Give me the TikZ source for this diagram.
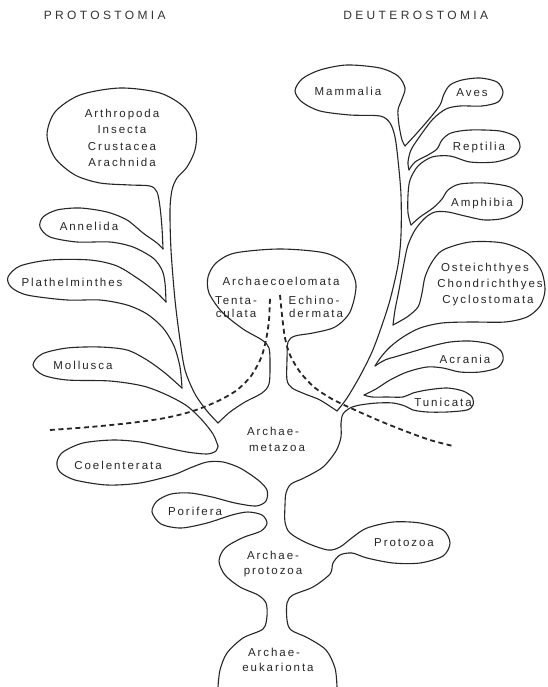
\documentclass[tikz,border=0pt]{standalone}
\usepackage{fontspec}
\newfontfamily\labfont[LetterSpace=17]{Liberation Sans}
\newfontfamily\headfont[LetterSpace=28]{Liberation Sans}
\begin{document}
\begin{tikzpicture}[x=1pt,y=-1pt,
  outl/.style={line width=1.1pt, draw=black!85, line join=round, line cap=round},
  divide/.style={line width=1.8pt, draw=black!85, dash pattern=on 5pt off 3.5pt},
  lab/.style={inner sep=0pt, anchor=base, xshift=1pt, font=\labfont\fontsize{11.5}{13}\selectfont, text=black!85},
  head/.style={inner sep=0pt, anchor=base, xshift=1.7pt, font=\headfont\fontsize{12}{14}\selectfont, text=black!80}]
\fill[white] (0,0) rectangle (547,687);
\useasboundingbox (0,0) rectangle (547,687);

% outline, left side (bottom to top)
\draw[outl] plot[smooth,tension=0.5] coordinates {(218,687) (220,670) (227,653) (243,638) (263,629) (267,616) (266,603) (258,595) (240,587) (225,575) (219,561) (225,548) (242,538) (261,531) (267,523) (262,515) (248,512) (232,515) (207,523) (181,528) (161,524) (152,512) (157,501) (171,494) (190,493) (212,497) (235,503) (256,506) (266,501) (267,490) (258,480) (240,468) (223,462) (207,462) (190,468) (173,475) (140,483) (107,485) (75,480) (60,472) (57,462) (63,452) (83,443) (113,440) (140,442) (163,447) (187,452) (207,454) (216,451) (218,446)};
\draw[outl] plot[smooth,tension=0.5] coordinates {(218,446) (213,434) (202,420) (187,406) (167,395) (143,386) (110,381) (67,380) (43,375) (33,365) (42,354) (67,348) (100,347) (127,350) (147,360) (165,373) (182,388)};
\draw[outl] plot[smooth,tension=0.5] coordinates {(182,388) (180,367) (174,346) (163,328) (147,314) (127,305) (100,300) (67,300) (27,295) (11,287) (8,277) (20,266) (50,260) (90,260) (117,266) (140,280) (157,293) (166,302)};
\draw[outl] plot[smooth,tension=0.5] coordinates {(166,302) (165,283) (162,270) (153,258) (133,247) (110,242) (77,242) (50,237) (40,227) (43,217) (57,210) (80,208) (107,212) (127,220) (143,233) (157,243) (163,249)};
\draw[outl] plot[smooth,tension=0.5] coordinates {(163,249) (162,228) (160,207) (157,192) (150,186) (130,185) (100,183) (75,175) (55,158) (47,135) (55,112) (80,95) (120,88) (160,93) (185,108) (196,130) (195,150) (187,167) (177,178) (172,190) (170,210) (171,250) (175,300) (180,340) (185,370) (195,394) (207,411) (218,423)};
% Archaecoelomata
\draw[outl] plot[smooth,tension=0.5] coordinates {(218,423) (230,412) (245,402) (262,393) (269,384) (270,365) (269,348) (262,340) (243,329) (222,312) (209,293) (208,277) (216,263) (235,253) (280,249) (325,253) (347,265) (356,285) (350,312) (335,327) (313,333) (295,336) (288,342) (287,360) (287,380) (292,388) (305,394) (320,400) (337,411)};
% right trunk and Mammalia
\draw[outl] plot[smooth,tension=0.5] coordinates {(337,411) (347,398) (360,376) (372,352) (381,328) (390,300) (398,265) (401,235) (401,195) (398,160) (395,137) (390,123) (380,116) (350,115) (320,111) (302,102) (295,91) (302,79) (320,70) (347,65) (380,68) (398,76) (405,88) (402,99) (398,110) (399,125) (402,140) (405,146)};
\draw[outl] plot[smooth,tension=0.5] coordinates {(405,146) (417,133) (430,118) (440,105) (444,94) (450,85) (462,80) (480,78) (497,82) (503,92) (498,102) (482,106) (460,106) (446,109) (433,119) (420,136) (411,150) (408,162) (409,170)};
\draw[outl] plot[smooth,tension=0.5] coordinates {(409,170) (415,162) (428,155) (437,149) (442,140) (451,133) (470,130) (500,131) (516,137) (520,147) (514,156) (495,162) (470,162) (450,156) (432,157) (418,166) (410,180) (408,195) (408,213) (411,225)};
\draw[outl] plot[smooth,tension=0.5] coordinates {(411,225) (420,217) (433,208) (442,199) (448,190) (460,184) (485,183) (510,187) (522,197) (520,210) (505,218) (485,220) (465,216) (448,212) (435,212) (425,218) (415,230) (408,245) (404,263) (399,290) (395,310) (393,325)};
\draw[outl] plot[smooth,tension=0.5] coordinates {(393,325) (407,317) (418,307) (422,293) (425,277) (432,262) (443,250) (470,242) (503,243) (527,253) (541,270) (545,290) (540,306) (527,317) (505,322) (470,322) (442,323) (420,328) (403,337) (390,347) (381,357) (375,366)};
\draw[outl] plot[smooth,tension=0.5] coordinates {(375,366) (385,360) (398,356) (415,351) (432,346) (450,342) (470,341) (490,344) (501,351) (503,360) (497,368) (480,372) (460,372) (443,368) (427,367) (407,372) (390,380) (376,389) (364,395)};
\draw[outl] plot[smooth,tension=0.5] coordinates {(364,395) (372,397) (387,397) (403,397) (413,393) (427,390) (447,388) (463,391) (472,397) (473,405) (467,410) (447,412) (427,412) (413,410) (405,406) (393,403) (377,403) (360,405) (350,408) (343,414) (341,423) (341,437) (336,451) (323,467) (304,478) (291,484) (286,493) (285,505) (285,522) (290,533) (307,543) (328,550) (340,547) (353,537) (367,528) (393,522) (420,523) (443,530) (450,543) (443,556) (420,563) (393,563) (367,558) (352,553) (340,555) (333,563) (330,574) (313,587) (293,595) (287,603) (287,620) (291,630) (308,638) (326,650) (335,668) (337,687)};

% dividing lines
\draw[divide] plot[smooth,tension=0.5] coordinates {(50,430) (90,427) (130,423) (165,418) (193,411) (218,401) (237,390) (251,376) (261,358) (266,340) (269,320) (270,297)};
\draw[divide] plot[smooth,tension=0.5] coordinates {(280,295) (282,315) (285,338) (290,355) (300,372) (314,387) (332,399) (355,410) (380,421) (405,431) (430,440) (453,446)};

% headings
\node[head] (headP) at (103,20) {PROTOSTOMIA};
\node[head] (headD) at (414,20) {DEUTEROSTOMIA};
% labels
\node[lab] (arth1) at (121,118) {Arthropoda};
\node[lab] (arth2) at (121,134) {Insecta};
\node[lab] (arth3) at (121,150) {Crustacea};
\node[lab] (arth4) at (121,167) {Arachnida};
\node[lab] (anne) at (88,230) {Annelida};
\node[lab] (plat) at (71,286) {Plathelminthes};
\node[lab] (moll) at (82,369) {Mollusca};
\node[lab] (coel) at (117,469) {Coelenterata};
\node[lab] (pori) at (194,515) {Porifera};
\node[lab] (arco) at (280,285) {Archaecoelomata};
\node[lab] (tent1) at (235,304) {Tenta-};
\node[lab] (tent2) at (235,317) {culata};
\node[lab] (echi1) at (313,304) {Echino-};
\node[lab] (echi2) at (315,317) {dermata};
\node[lab] (meta1) at (272,435) {Archae-};
\node[lab] (meta2) at (276,451) {metazoa};
\node[lab] (prot1) at (272,559) {Archae-};
\node[lab] (prot2) at (272,574) {protozoa};
\node[lab] (euk1) at (273,656) {Archae-};
\node[lab] (euk2) at (277,671) {eukarionta};
\node[lab] (protz) at (403,546) {Protozoa};
\node[lab] (mamm) at (347,96) {Mammalia};
\node[lab] (aves) at (471,97) {Aves};
\node[lab] (rept) at (478,151) {Reptilia};
\node[lab] (amph) at (481,206) {Amphibia};
\node[lab] (oste1) at (484,271) {Osteichthyes};
\node[lab] (oste2) at (489,287) {Chondrichthyes};
\node[lab] (oste3) at (487,303) {Cyclostomata};
\node[lab] (acra) at (464,363) {Acrania};
\node[lab] (tuni) at (442,406) {Tunicata};
\end{tikzpicture}
\end{document}
